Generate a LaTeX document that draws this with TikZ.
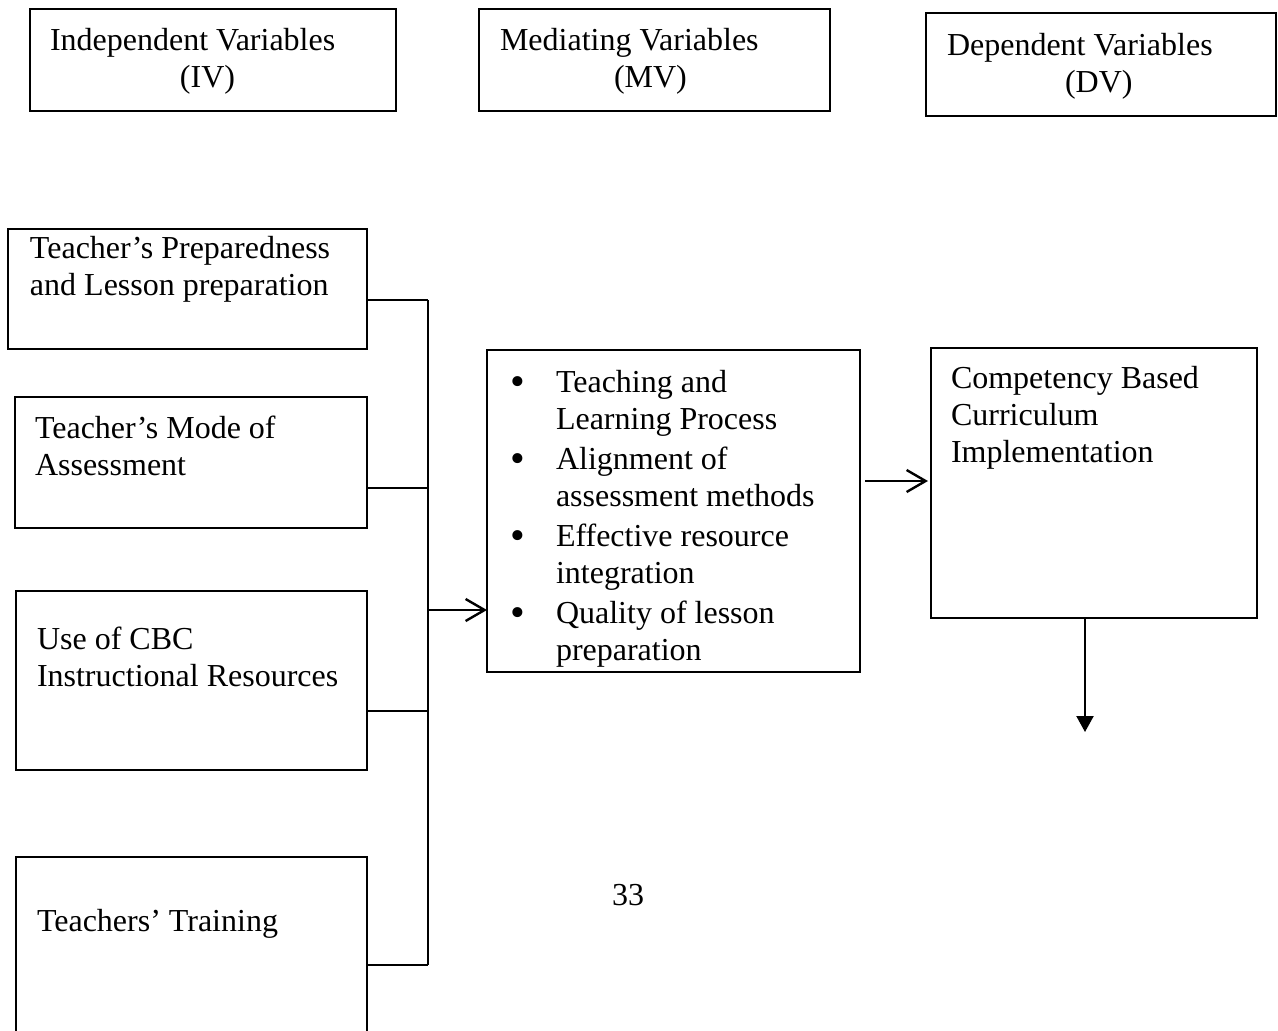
\documentclass[tikz,border=0pt]{standalone}
\usepackage{fontspec}
\setmainfont{Liberation Serif}
\usetikzlibrary{arrows.meta}
\newcommand{\mybul}{\makebox[46pt][l]{\raisebox{-3pt}{\fontsize{42}{37}\selectfont •}}}
\newcommand{\mygap}{\makebox[46pt][l]{}}
\begin{document}
\begin{tikzpicture}[x=1pt,y=-1pt,
  box/.style={draw, line width=1.4pt, rectangle, inner sep=0pt, outer sep=0pt, anchor=north west},
  txt/.style={anchor=base west, inner sep=0pt, outer sep=0pt, font=\fontsize{32}{37}\selectfont},
  conn/.style={line width=1.8pt},
  openarrow/.style={line width=2.2pt, -{Straight Barb[length=19pt,width=22pt,line width=2.4pt]}},
  fillarrow/.style={line width=2.2pt, -{Triangle[length=16pt,width=17pt]}}]
\useasboundingbox (0,0) rectangle (1278,1031);
\fill[white] (0,0) rectangle (1278,1031);

% header boxes
\node[box, minimum width=366pt, minimum height=102pt] (ivbox) at (30,9) {};
\node[txt] (ivtxt) at (50,50) {\begin{tabular}[t]{@{}l@{}}Independent Variables\\\hspace*{130pt}(IV)\end{tabular}};
\node[box, minimum width=351pt, minimum height=102pt] (mvhbox) at (479,9) {};
\node[txt] (mvtxt) at (500,50) {\begin{tabular}[t]{@{}l@{}}Mediating Variables\\\hspace*{114pt}(MV)\end{tabular}};
\node[box, minimum width=350pt, minimum height=103pt] (dvhbox) at (926,13) {};
\node[txt] (dvtxt) at (947,55) {\begin{tabular}[t]{@{}l@{}}Dependent Variables\\\hspace*{118pt}(DV)\end{tabular}};

% independent variable boxes
\node[box, minimum width=359pt, minimum height=120pt] (t1) at (8,229) {};
\node[txt] (t1txt) at (30,258) {\begin{tabular}[t]{@{}l@{}}Teacher’s Preparedness\\and Lesson preparation\end{tabular}};
\node[box, minimum width=352pt, minimum height=131pt] (t2) at (15,397) {};
\node[txt] (t2txt) at (35,438) {\begin{tabular}[t]{@{}l@{}}Teacher’s Mode of\\Assessment\end{tabular}};
\node[box, minimum width=351pt, minimum height=179pt] (t3) at (16,591) {};
\node[txt] (t3txt) at (37,649) {\begin{tabular}[t]{@{}l@{}}Use of CBC\\Instructional Resources\end{tabular}};
\node[box, minimum width=351pt, minimum height=190pt] (t4) at (16,857) {};
\node[txt] (t4txt) at (37,931) {Teachers’ Training};

% mediating box
\node[box, minimum width=373pt, minimum height=322pt] (mv) at (487,350) {};
\node[txt] (mvlist) at (510,392) {\begin{tabular}[t]{@{}l@{}}
\mybul Teaching and\\
\mygap Learning Process\\[3pt]
\mybul Alignment of\\
\mygap assessment methods\\[3pt]
\mybul Effective resource\\
\mygap integration\\[3pt]
\mybul Quality of lesson\\
\mygap preparation
\end{tabular}};

% dependent box
\node[box, minimum width=326pt, minimum height=270pt] (dv) at (931,348) {};
\node[txt] (dvtext) at (951,388) {\begin{tabular}[t]{@{}l@{}}Competency Based\\Curriculum\\Implementation\end{tabular}};

% page number
\node[txt, anchor=base] (pagenum) at (628,905) {33};

% connectors
\coordinate (j1) at (428,300);
\coordinate (j2) at (428,488);
\coordinate (j3) at (428,711);
\coordinate (j4) at (428,965);
\coordinate (ja) at (428,610);
\coordinate (jb) at (865,481);
\coordinate (jc) at (1085,618);
\coordinate (jd) at (1085,732);
\draw[conn] (t1.east |- j1) -- (j1);
\draw[conn] (t2.east |- j2) -- (j2);
\draw[conn] (t3.east |- j3) -- (j3);
\draw[conn] (t4.east |- j4) -- (j4);
\draw[line width=2.2pt] (j1) -- (j4);
\draw[openarrow] (ja) -- (mv.west |- ja);
\draw[openarrow] (jb) -- ([xshift=-3pt]dv.west |- jb);
\draw[fillarrow] (jc) -- (jd);
\end{tikzpicture}
\end{document}
